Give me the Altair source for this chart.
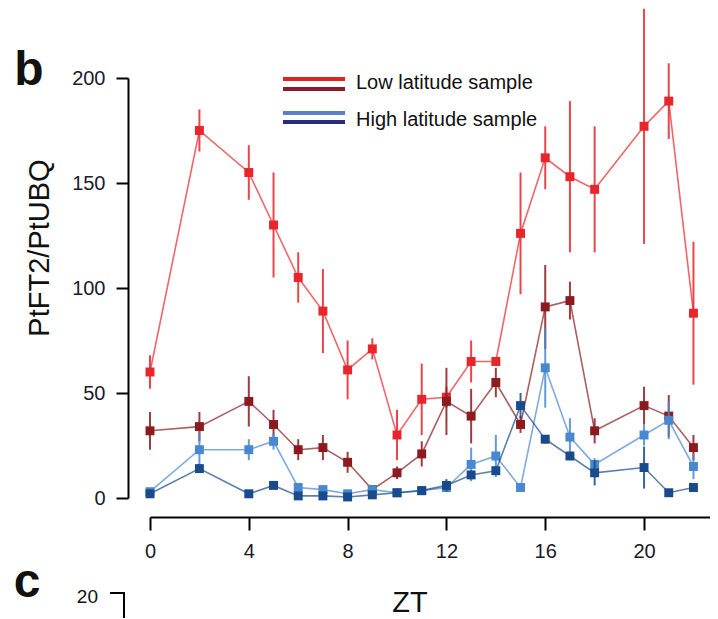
import altair as alt
import pandas as pd

FONT = "Liberation Sans"

zt = [0, 2, 4, 5, 6, 7, 8, 9, 10, 11, 12, 13, 14, 15, 16, 17, 18, 20, 21, 22]

low_light = [60, 175, 155, 130, 105, 89, 61, 71, 30, 47, 48, 65, 65, 126, 162, 153, 147, 177, 189, 88]
low_light_err = [8, 10, 13, 25, 12, 20, 14, 5, 12, 17, 5, 10, 2, 29, 15, 36, 30, 56, 18, 34]

low_dark = [32, 34, 46, 35, 23, 24, 17, 4, 12, 21, 46, 39, 55, 35, 91, 94, 32, 44, 39, 24]
low_dark_err = [9, 7, 12, 7, 5, 6, 5, 2, 3, 6, 16, 13, 7, 4, 20, 9, 6, 9, 10, 6]

high_light = [3, 23, 23, 27, 5, 4, 2, 4, 2.5, 3.5, 5, 16, 20, 5, 62, 29, 16, 30, 37, 15]
high_light_err = [1, 9, 5, 4, 1, 1, 1, 1, 1, 1, 2, 8, 10, 1, 19, 9, 3, 5, 9, 6]

high_dark = [2, 14, 2, 6, 1, 1, 0.5, 1.5, 2.5, 3.5, 6, 11, 13, 44, 28, 20, 12, 14.5, 2.5, 5]
high_dark_err = [1, 2, 1, 1, 1, 1, 1, 1, 1, 1, 3, 2, 2, 6, 2, 2, 6, 10, 1, 1]

x_ticks = [0, 4, 8, 12, 16, 20]
y_ticks = [0, 50, 100, 150, 200]

legend_labels = ["Low latitude sample", "High latitude sample"]

C_LOW_LIGHT = "#e8252b"
C_LOW_DARK = "#8c1b1f"
C_HIGH_LIGHT = "#4888d0"
C_HIGH_DARK = "#184a8c"

xscale = alt.Scale(domain=[0, 22.67], nice=False, zero=False)
yscale = alt.Scale(domain=[0, 200], nice=False)

xaxis = alt.Axis(values=x_ticks, offset=19, tickSize=13, tickWidth=2, tickColor="black",
                 domainColor="black", domainWidth=2, labelFontSize=20, labelFont=FONT,
                 labelColor="#1a1a2a", labelPadding=11, grid=False, title=None,
                 labelFlush=False)
yaxis = alt.Axis(values=y_ticks, offset=22, tickSize=12, tickWidth=2, tickColor="black",
                 domainColor="black", domainWidth=2, labelFontSize=20, labelFont=FONT,
                 labelColor="#1a1a2a", labelPadding=11, grid=False, title=None,
                 labelFlush=False)


def series_layers(vals, errs, color):
    df = pd.DataFrame({
        "ZT": zt,
        "v": vals,
        "lo": [v - e for v, e in zip(vals, errs)],
        "hi": [v + e for v, e in zip(vals, errs)],
    })
    base = alt.Chart(df)
    xe = alt.X("ZT:Q", scale=xscale, axis=xaxis)
    line = base.mark_line(color=color, strokeWidth=1.6, opacity=0.7).encode(
        x=xe,
        y=alt.Y("v:Q", scale=yscale, axis=yaxis),
    )
    err = base.mark_rule(color=color, strokeWidth=2, opacity=0.85).encode(
        x=xe,
        y=alt.Y("lo:Q", scale=yscale, axis=yaxis),
        y2="hi:Q",
    )
    pts = base.mark_square(color=color, size=80, opacity=1).encode(
        x=xe,
        y=alt.Y("v:Q", scale=yscale, axis=yaxis),
    )
    return [line, err, pts]


one = pd.DataFrame({"k": [0]})


def text_at(txt, x, y, size, weight="normal", angle=0, align="center", baseline="middle"):
    return alt.Chart(one).mark_text(
        text=txt, fontSize=size, font=FONT, fontWeight=weight, angle=angle,
        align=align, baseline=baseline, color="#111111"
    ).encode(x=alt.value(x), y=alt.value(y))


def hline(x1, x2, y, color, w):
    return alt.Chart(one).mark_rule(color=color, strokeWidth=w).encode(
        x=alt.value(x1), x2=alt.value(x2), y=alt.value(y))


def vline(x, y1, y2, color, w):
    return alt.Chart(one).mark_rule(color=color, strokeWidth=w).encode(
        x=alt.value(x), y=alt.value(y1), y2=alt.value(y2))


layers = []
layers += series_layers(low_light, low_light_err, C_LOW_LIGHT)
layers += series_layers(low_dark, low_dark_err, C_LOW_DARK)
layers += series_layers(high_light, high_light_err, C_HIGH_LIGHT)
layers += series_layers(high_dark, high_dark_err, C_HIGH_DARK)

# legend
layers += [
    hline(133, 195, 1, "#e0231f", 4),
    hline(133, 195, 11, "#8b1a2e", 4),
    hline(133, 195, 35, "#5a80c8", 4),
    hline(133, 195, 44, "#2b2a83", 4),
    text_at(legend_labels[0], 206, 5, 20, align="left"),
    text_at(legend_labels[1], 206, 42, 20, align="left"),
]

# titles and panel letters
layers += [
    text_at("PtFT2/PtUBQ", -110, 170, 29, angle=270),
    text_at("ZT", 260, 525, 29),
    text_at("b", -121, 7, 48, weight="bold", baseline="alphabetic"),
    text_at("c", -123, 519, 48, weight="bold", baseline="alphabetic"),
    text_at("20", -52, 525, 19, align="right", baseline="alphabetic"),
    hline(-40, -25, 515, "black", 2),
    vline(-26, 515, 545, "black", 2),
]

chart = alt.layer(*layers).properties(
    width=560,
    height=420,
    padding={"left": 142, "top": 70, "right": 0, "bottom": 120},
    autosize=alt.AutoSizeParams(type="none"),
).configure_view(stroke=None)

chart.save("out.html", embed_options={"renderer": "svg", "actions": False})
